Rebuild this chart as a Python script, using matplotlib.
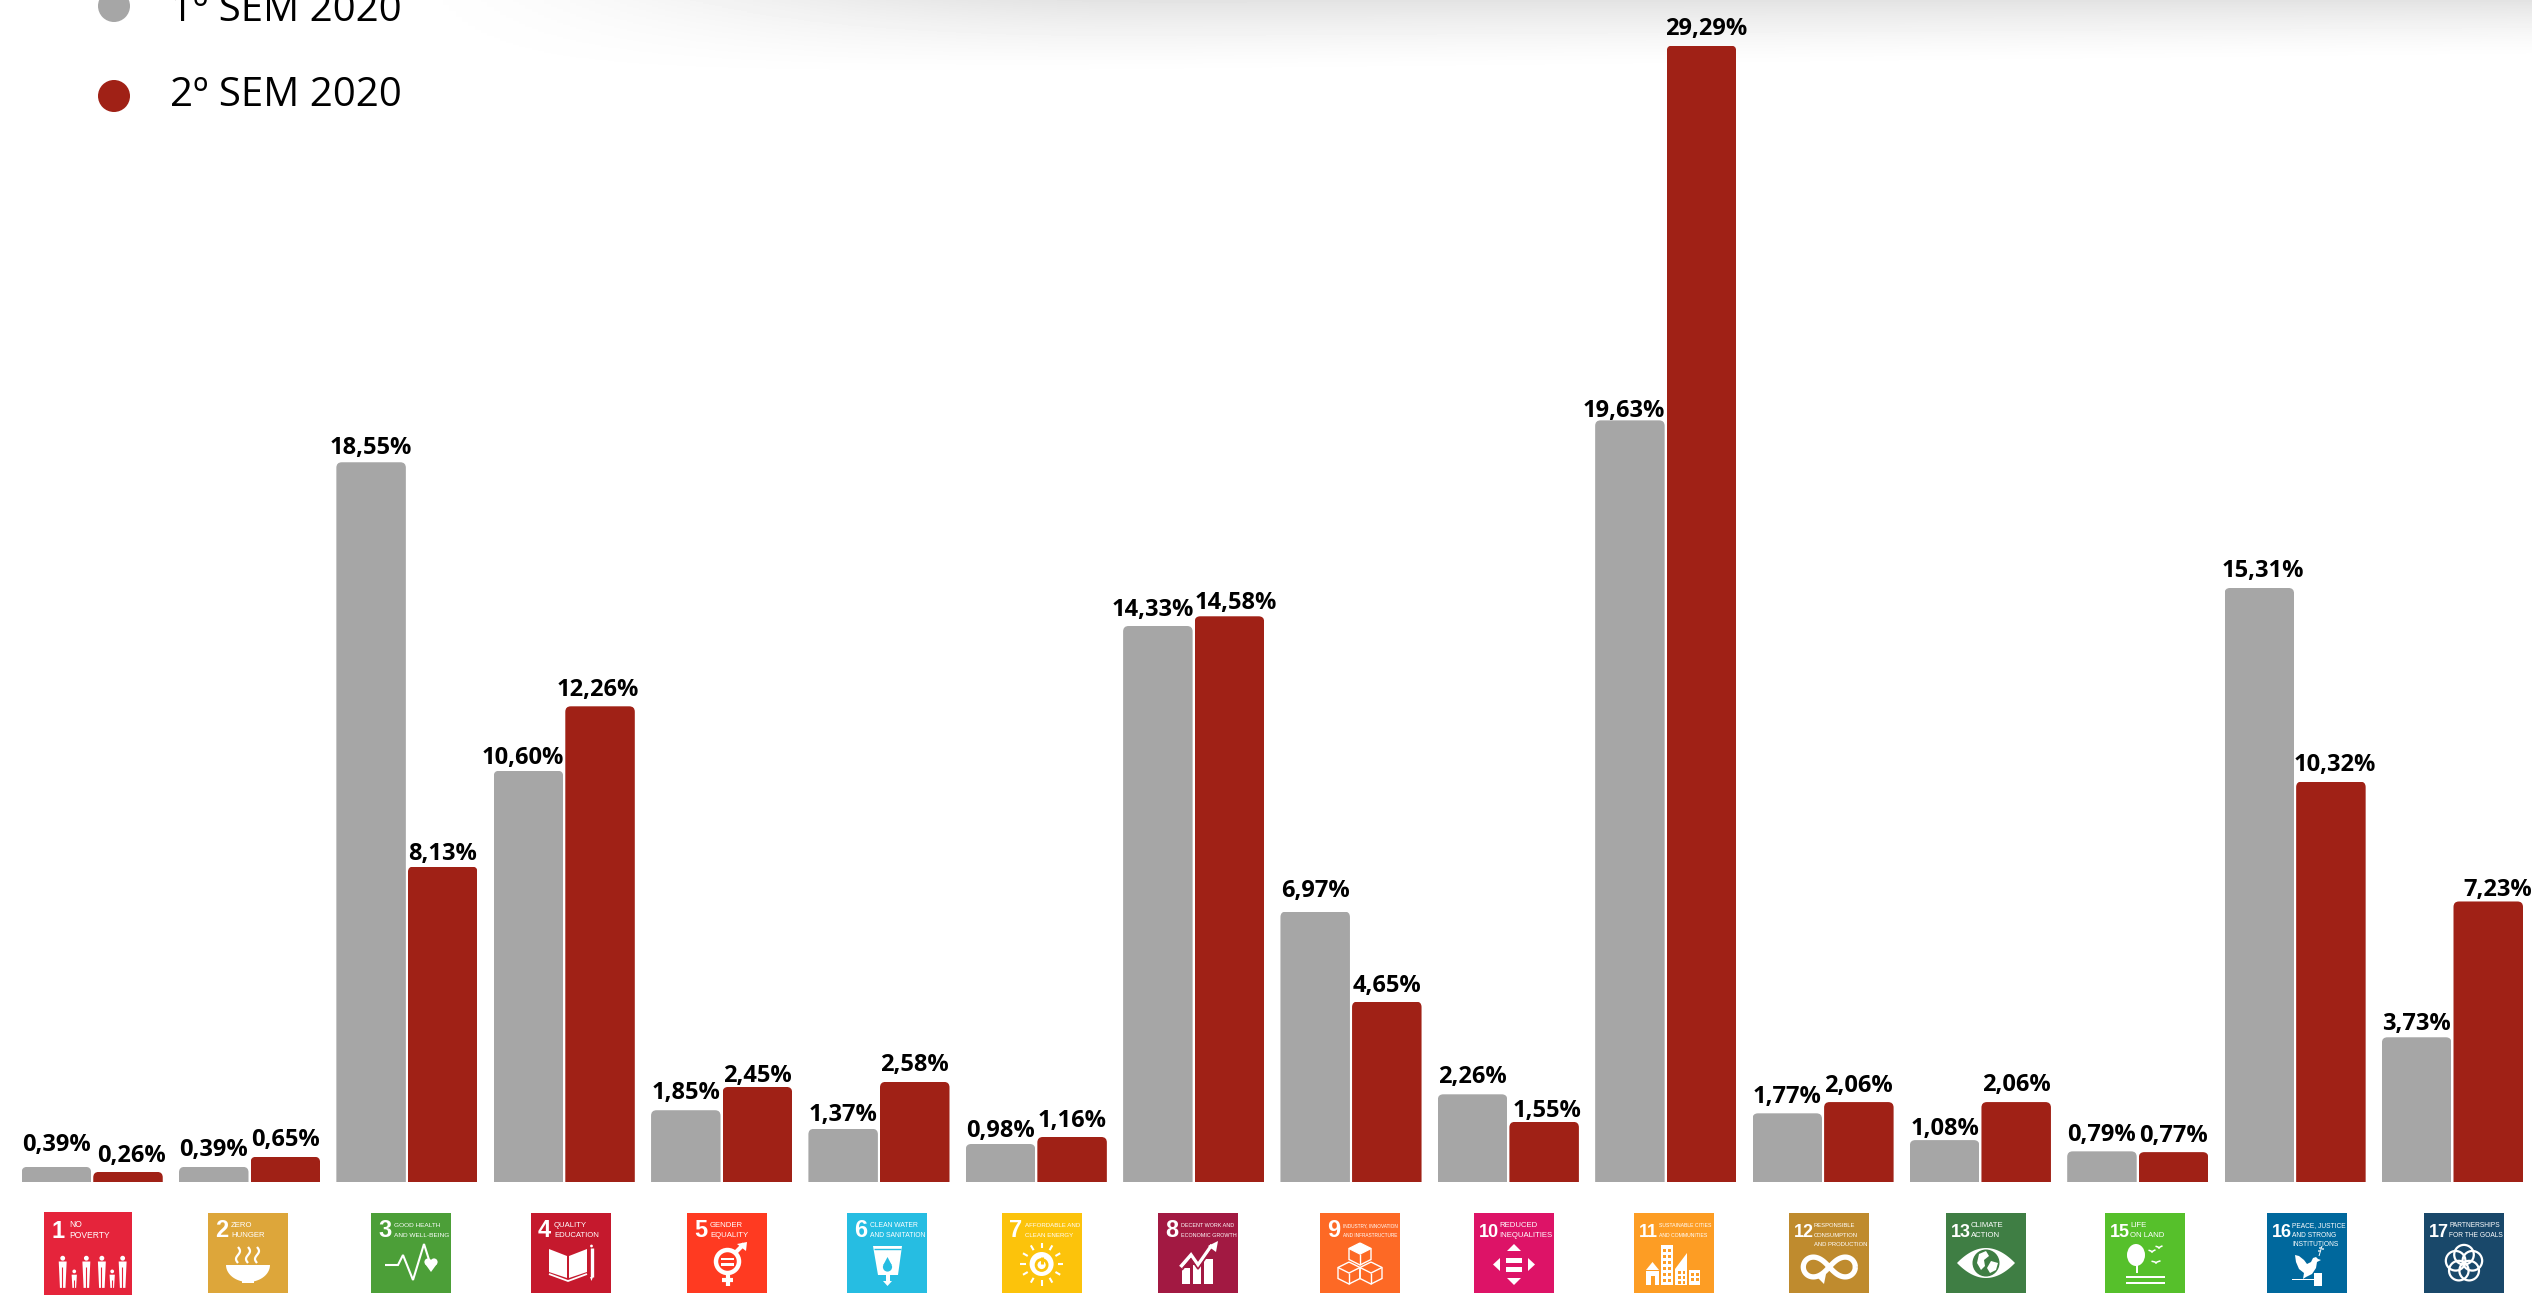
import numpy as np
import matplotlib
matplotlib.use('Agg')
import matplotlib.pyplot as plt
from matplotlib.patches import Polygon, Circle, Ellipse, Rectangle, FancyBboxPatch

# data
goals = ['1', '2', '3', '4', '5', '6', '7', '8', '9', '10', '11', '12', '13', '15', '16', '17']
sem1 = [0.39, 0.39, 18.55, 10.60, 1.85, 1.37, 0.98, 14.33, 6.97, 2.26, 19.63, 1.77, 1.08, 0.79, 15.31, 3.73]
sem2 = [0.26, 0.65, 8.13, 12.26, 2.45, 2.58, 1.16, 14.58, 4.65, 1.55, 29.29, 2.06, 2.06, 0.77, 10.32, 7.23]
series_names = ['1º SEM 2020', '2º SEM 2020']

titles = {
    '1': ['NO', 'POVERTY'], '2': ['ZERO', 'HUNGER'], '3': ['GOOD HEALTH', 'AND WELL-BEING'],
    '4': ['QUALITY', 'EDUCATION'], '5': ['GENDER', 'EQUALITY'], '6': ['CLEAN WATER', 'AND SANITATION'],
    '7': ['AFFORDABLE AND', 'CLEAN ENERGY'], '8': ['DECENT WORK AND', 'ECONOMIC GROWTH'],
    '9': ['INDUSTRY, INNOVATION', 'AND INFRASTRUCTURE'], '10': ['REDUCED', 'INEQUALITIES'],
    '11': ['SUSTAINABLE CITIES', 'AND COMMUNITIES'], '12': ['RESPONSIBLE', 'CONSUMPTION', 'AND PRODUCTION'],
    '13': ['CLIMATE', 'ACTION'], '15': ['LIFE', 'ON LAND'], '16': ['PEACE, JUSTICE', 'AND STRONG', 'INSTITUTIONS'],
    '17': ['PARTNERSHIPS', 'FOR THE GOALS'],
}
icon_colors = {
    '1': '#E5243B', '2': '#DDA63A', '3': '#4C9F38', '4': '#C5192D', '5': '#FF3A21', '6': '#26BDE2',
    '7': '#FCC30B', '8': '#A21942', '9': '#FD6925', '10': '#DD1367', '11': '#FD9D24', '12': '#BF8B2E',
    '13': '#3F7E44', '15': '#56C02B', '16': '#00689D', '17': '#19486A',
}
icon_left = {
    '1': 44, '2': 208, '3': 371, '4': 531, '5': 687, '6': 847, '7': 1002, '8': 1158,
    '9': 1320, '10': 1474, '11': 1634, '12': 1789, '13': 1946, '15': 2105, '16': 2267, '17': 2424,
}

GRAY = '#A6A6A6'
RED = '#A02116'
W, H = 2532, 1295
BASE_Y = 1182       # pixel row of value 0
PX_PER_UNIT = 38.8
STEP = 157.35       # pixels between groups
FIRST = 92.2        # pixel column of the first group centre

fig = plt.figure(figsize=(W / 100, H / 100), dpi=100)
renderer = fig.canvas.get_renderer()

# background axes in pixel coordinates: top shadow, legend, icons
bg = fig.add_axes([0, 0, 1, 1], zorder=0)
bg.set_xlim(0, W)
bg.set_ylim(H, 0)
xx, yy = np.meshgrid(np.linspace(0, 1, 400), np.linspace(0, 1, 100))
px = xx * W
py = yy * 100
fx = np.clip((px - 350) / 800, 0, 1)
fx = fx * fx * (3 - 2 * fx)
depth = 92 - 32 * xx
fy = np.clip(1 - py / depth, 0, 1) ** 1.5
shade = 1 - (28 / 255) * fx * fy
bg.imshow(shade, cmap='gray', vmin=0, vmax=1, extent=[0, W, 100, 0], aspect='auto', zorder=0)
bg.set_xlim(0, W)
bg.set_ylim(H, 0)
bg.axis('off')

# legend
for name, color, cy, base in zip(series_names, [GRAY, RED], [6, 96], [20.7, 106]):
    bg.add_patch(Circle((114, cy), 16, color=color, lw=0))
    bg.text(170, base, name, fontsize=29, family='Open Sans', va='baseline', ha='left', color='black')


def draw_icon(goal, x0, y0, k):
    ink = 'white'
    col = icon_colors[goal]
    size = 80 * k

    def P(u, v):
        return (x0 + u * k, y0 + v * k)

    def poly(pts, fc=ink, z=3):
        bg.add_patch(Polygon([P(u, v) for u, v in pts], closed=True, fc=fc, ec='none', zorder=z))

    def line(pts, lw=1.5, c=ink, z=3):
        xs, ys = zip(*[P(u, v) for u, v in pts])
        bg.plot(xs, ys, color=c, lw=lw, zorder=z, solid_capstyle='butt', solid_joinstyle='miter')

    def circ(u, v, r, fc=ink, ec='none', lw=0, z=3):
        bg.add_patch(Circle(P(u, v), r * k, fc=fc, ec=ec, lw=lw, zorder=z))

    def box(u0, v0, u1, v1, fc=ink, z=3):
        poly([(u0, v0), (u1, v0), (u1, v1), (u0, v1)], fc=fc, z=z)

    bg.add_patch(Rectangle((x0, y0), size, size, fc=col, ec='none', zorder=2))

    # number and title, the title is shrunk until its longest line fits the square
    two_digits = len(goal) == 2
    bg.text(*P(5 if two_digits else 7, 24), goal, color=ink, fontsize=13 if two_digits else 17,
            fontweight='bold', family='Liberation Sans', va='baseline', ha='left', zorder=4)
    title_u = 25 if two_digits else 23
    room = (78 - title_u) * k
    labels = []
    for j, txt in enumerate(titles[goal]):
        labels.append(bg.text(*P(title_u, 14 + 9.6 * j), txt, color=ink, fontsize=5.6 * k,
                              family='Liberation Sans', va='baseline', ha='left', zorder=4))
    widest = max(t.get_window_extent(renderer).width for t in labels)
    if widest > room:
        for t in labels:
            t.set_fontsize(t.get_fontsize() * room / widest)

    if goal == '1':
        for u, big in [(17, 1), (27.5, 0), (38.5, 1), (52.6, 1), (62, 0), (71.5, 1)]:
            top = 42 if big else 54
            w = 3.6 if big else 2.4
            circ(u, top, 2.2 if big else 1.7)
            poly([(u - w, top + 3), (u + w, top + 3), (u + w * 0.7, 69), (u - w * 0.7, 69)])
            line([(u - w * 0.2, top + 8), (u - w * 0.2, 69)], lw=0.8, c=col)
    elif goal == '2':
        t = np.linspace(0, np.pi, 30)
        poly([(40 + 22 * np.cos(a), 52 + 17 * np.sin(a)) for a in t])
        box(34, 67, 46, 70)
        for u in [30, 40, 49]:
            v = np.linspace(34, 50, 20)
            line([(u + 2 * np.sin((b - 34) / 16 * 2 * np.pi), b) for b in v], lw=1.6)
    elif goal == '3':
        line([(14, 52), (27, 52), (32, 42), (42, 67), (53, 31), (59, 50)], lw=1.5)
        circ(57, 49, 3.6)
        circ(63, 49, 3.6)
        poly([(53.8, 50.5), (66.2, 50.5), (60, 59)])
    elif goal == '4':
        poly([(18, 36), (36, 43), (36, 65), (18, 59)])
        poly([(38, 43), (56, 36), (56, 59), (38, 65)])
        line([(18, 61), (37, 68), (56, 61)], lw=1.3)
        line([(60.5, 35), (60.5, 64)], lw=2.4)
        poly([(59, 64), (62, 64), (60.5, 68)])
        circ(60.5, 33, 1.4)
    elif goal == '5':
        circ(40.5, 48.5, 11.5, fc='none', ec=ink, lw=3.2)
        box(34, 44.5, 47, 47)
        box(34, 50, 47, 52.5)
        line([(40.5, 61), (40.5, 73)], lw=3)
        line([(35, 67), (46, 67)], lw=3)
        line([(48, 40), (57, 31)], lw=3)
        poly([(50, 31), (60, 29), (59, 38)])
    elif goal == '6':
        poly([(26, 33), (55, 33), (51, 62), (31, 62)])
        line([(27, 36), (54, 36)], lw=1, c=col)
        circ(40.5, 54, 4.6, fc=col)
        poly([(40.5, 44), (36.3, 52), (44.7, 52)], fc=col)
        box(38.5, 62, 42.5, 69)
        poly([(36, 68), (45, 68), (40.5, 73)])
    elif goal == '7':
        circ(39.6, 51, 12)
        for a in np.arange(0, 360, 30):
            ca, sa = np.cos(np.radians(a)), np.sin(np.radians(a))
            line([(39.6 + 16 * ca, 51 + 16 * sa), (39.6 + 21.5 * ca, 51 + 21.5 * sa)], lw=1.5)
        circ(39.6, 52, 5.5, fc='none', ec=col, lw=2)
        line([(39.6, 44), (39.6, 51)], lw=2.2, c=col)
    elif goal == '8':
        box(24, 55, 32, 71)
        box(35, 52, 43, 71)
        box(46, 46, 55, 71)
        line([(22.5, 54), (33, 42), (40, 52), (54, 32)], lw=2.6)
        line([(24, 57), (33, 46), (40, 56), (54, 36)], lw=1.2, c=col)
        poly([(50, 33), (60, 28), (58, 39)])
    elif goal == '9':
        for cu, cv in [(40, 41), (29, 60), (51, 60)]:
            r = 11
            hexa = [(cu, cv - r), (cu + r, cv - r / 2), (cu + r, cv + r / 2),
                    (cu, cv + r), (cu - r, cv + r / 2), (cu - r, cv - r / 2), (cu, cv - r)]
            line(hexa, lw=1)
            line([(cu - r, cv - r / 2), (cu, cv), (cu + r, cv - r / 2)], lw=1)
            line([(cu, cv), (cu, cv + r)], lw=1)
        poly([(40, 30), (51, 35.5), (40, 41), (29, 35.5)])
    elif goal == '10':
        poly([(40, 31), (47, 38), (33, 38)])
        poly([(40, 72), (47, 65), (33, 65)])
        poly([(19, 51.5), (26, 45), (26, 58)])
        poly([(61, 51.5), (54, 45), (54, 58)])
        box(32, 44.7, 48, 50)
        box(32, 53.7, 48, 59)
    elif goal == '11':
        box(27, 32, 39, 72)
        for u in [29, 33.5]:
            for v in np.arange(36, 70, 6):
                box(u, v, u + 3, v + 3, fc=col)
        poly([(12, 57), (18.5, 49), (25, 57)])
        box(12, 58, 25, 72)
        box(16.5, 63, 20.5, 72, fc=col)
        poly([(41, 72), (41, 56), (53, 40), (53, 72)])
        box(55, 57, 66, 72)
        for u in [57, 61.5]:
            for v in [60, 65]:
                box(u, v, u + 3, v + 3, fc=col)
        for u in [44, 48.5]:
            for v in [58, 63, 68]:
                box(u, v, u + 2.5, v + 2.5, fc=col)
    elif goal == '12':
        t = np.linspace(0, 2 * np.pi, 120)
        den = 1 + np.sin(t) ** 2
        line(list(zip(40.3 + 26 * np.cos(t) / den, 54 + 28 * np.sin(t) * np.cos(t) / den)), lw=3.8)
        poly([(26, 62), (37, 61), (35, 71)])
    elif goal == '13':
        u = np.linspace(11, 69, 40)
        d = 15 * (1 - ((u - 40) / 29) ** 2)
        poly(list(zip(u, 50 - d)) + list(zip(u[::-1], (50 + d)[::-1])))
        circ(40, 50, 13.5, fc=col)
        poly([(33, 41), (40, 38), (43, 43), (38, 47), (39, 53), (35, 57), (31, 50)])
        poly([(45, 48), (52, 50), (50, 57), (44, 60), (41, 55)])
    elif goal == '15':
        bg.add_patch(Ellipse(P(31, 42), 18 * k, 22 * k, fc=ink, ec='none', zorder=3))
        box(30.5, 52, 33, 60)
        box(20.5, 62.5, 60, 65)
        box(20.5, 68.5, 60, 71)
        for u, v, s in [(54, 34, 3.5), (47, 38, 3.5), (51, 49, 4.5)]:
            line([(u - s, v - 0.8), (u - 1, v), (u, v + 1.3), (u + 1, v), (u + s, v - 1.2)], lw=1.1)
    elif goal == '16':
        poly([(28, 42), (32, 43), (37, 47), (40, 51), (44, 49), (46, 45), (49, 44), (51, 46), (54, 47),
              (50, 49), (49, 55), (45, 61), (39, 64), (36, 66), (37, 60), (32, 56), (29, 49)])
        line([(52, 43), (55, 33)], lw=0.7)
        for cu, cv in [(52, 38), (56, 36), (53, 35)]:
            circ(cu, cv, 0.9)
        box(24.5, 66, 47, 67.3)
        box(47, 60, 54.5, 73)
    elif goal == '17':
        for a in np.radians(np.arange(-90, 270, 72)):
            circ(40 + 8.8 * np.cos(a), 50.5 + 8.8 * np.sin(a), 9.8, fc='none', ec=ink, lw=1.6)


for goal in goals:
    if goal == '1':
        draw_icon(goal, icon_left[goal], 1212, 88 / 80)
    else:
        draw_icon(goal, icon_left[goal], 1213, 1)

# main axes: one category unit is one group, one y unit is one percentage point
ax = fig.add_axes([0, 0, 1, 1], zorder=1)
ax.patch.set_alpha(0)
ax.set_xlim(-FIRST / STEP, (W - FIRST) / STEP)
ax.set_ylim(-(H - BASE_Y) / PX_PER_UNIT, BASE_Y / PX_PER_UNIT)
ax.axis('off')

x = np.arange(len(goals))
bar_w = 69.5 / STEP
off = 35.8 / STEP
bars1 = ax.bar(x - off, sem1, bar_w, color=GRAY)
bars2 = ax.bar(x + off, sem2, bar_w, color=RED)

# rounded top corners
radius = 5.5 / STEP
for b in list(bars1) + list(bars2):
    clip = FancyBboxPatch((b.get_x(), -2), b.get_width(), b.get_height() + 2,
                          boxstyle=f'round,pad=0,rounding_size={radius}',
                          mutation_aspect=STEP / PX_PER_UNIT,
                          transform=ax.transData, fc='none', ec='none')
    ax.add_patch(clip)
    b.set_clip_path(clip)

# value labels were placed by hand in the original, so keep small per-label shifts (pixels)
shift_x1 = {'4': -6, '8': -5, '11': -6, '16': 4}
shift_x2 = {'1': 3, '4': -2, '8': 6, '10': 3, '11': 5, '16': 4, '17': 10}
drop1 = [-3, 2, 5, 6, 2, 5, 6, 3, -2, 2, 10, 3, 8, 3, 2, 6]
drop2 = [3, 2, 6, 3, 8, 2, 3, 6, 3, 8, 3, 3, 2, 3, 2, 8]
for bars, vals, shift, drop in [(bars1, sem1, shift_x1, drop1), (bars2, sem2, shift_x2, drop2)]:
    for goal, b, v, d in zip(goals, bars, vals, drop):
        ax.annotate(f'{v:.2f}%'.replace('.', ','), (b.get_x() + b.get_width() / 2, v),
                    xytext=(shift.get(goal, 0) * 0.72, 9.4 - d * 0.72), textcoords='offset points',
                    ha='center', va='baseline', fontsize=17, fontweight='bold',
                    family='Open Sans', color='black')

fig.savefig('out.png', dpi=100)
